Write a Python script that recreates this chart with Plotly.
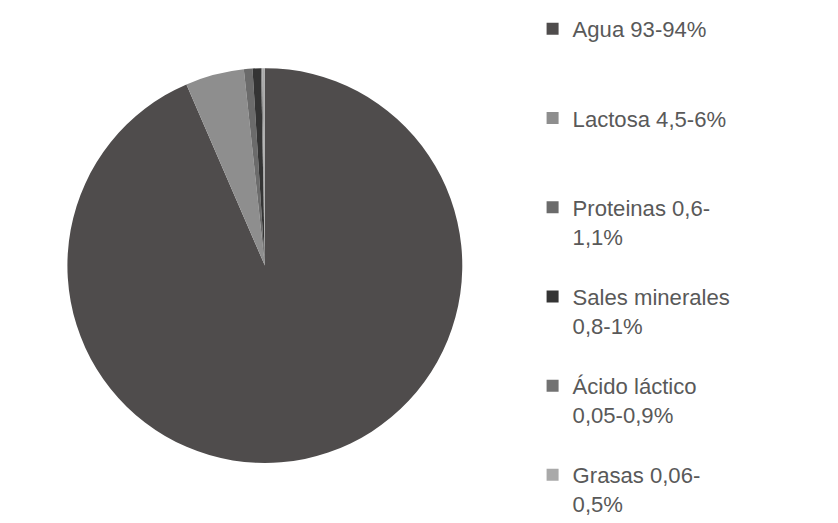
import plotly.graph_objects as go

labels = [
    "Agua 93-94%<br> <br> ",
    "Lactosa 4,5-6%<br> <br> ",
    "Proteinas 0,6-<br>1,1%<br> ",
    "Sales minerales<br>0,8-1%<br> ",
    "Ácido láctico<br>0,05-0,9%<br> ",
    "Grasas 0,06-<br>0,5%",
]
values = [93.5, 4.8, 0.7, 0.7, 0.1, 0.2]
colors = ["#4f4c4c", "#8e8e8e", "#6b6b6b", "#343434", "#727272", "#a9a9a9"]

fig = go.Figure(
    go.Pie(
        labels=labels,
        values=values,
        sort=False,
        direction="clockwise",
        rotation=0,
        textinfo="none",
        marker=dict(colors=colors, line=dict(width=0)),
        domain=dict(x=[0.07, 0.543], y=[0.13, 0.885]),
    )
)

fig.update_layout(
    width=838,
    height=523,
    margin=dict(l=0, r=0, t=0, b=0),
    paper_bgcolor="white",
    plot_bgcolor="white",
    showlegend=True,
    legend=dict(
        x=0.626,
        y=1,
        xanchor="left",
        yanchor="top",
        valign="top",
        itemwidth=30,
        font=dict(family="Liberation Sans, Arial, sans-serif", size=22.1, color="#595959"),
        bgcolor="rgba(0,0,0,0)",
    ),
)

fig.write_html("out.html")
